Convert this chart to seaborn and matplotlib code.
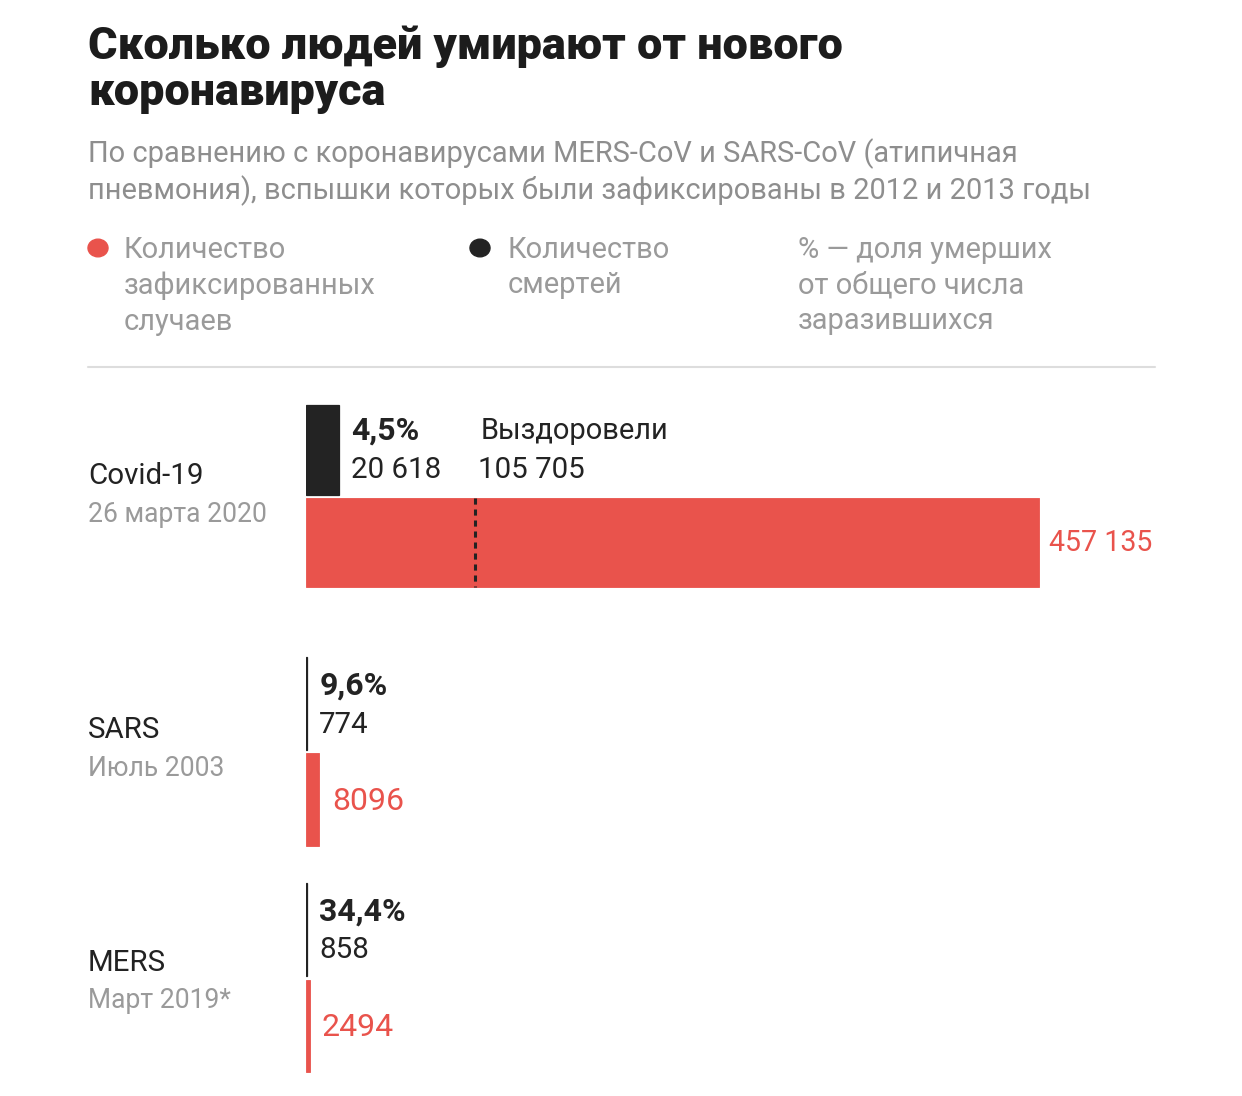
import matplotlib
matplotlib.use("Agg")
import matplotlib.pyplot as plt
import seaborn as sns

# ---- data ----
diseases = ["Covid-19", "SARS", "MERS"]
dates = ["26 марта 2020", "Июль 2003", "Март 2019*"]
cases = [457135, 8096, 2494]
deaths = [20618, 774, 858]
recovered_covid = 105705
pct_labels = ["4,5%", "9,6%", "34,4%"]
cases_labels = ["457 135", "8096", "2494"]
deaths_labels = ["20 618", "774", "858"]
recovered_label = "105 705"

title = "Сколько людей умирают от нового\nкоронавируса"
subtitle = ("По сравнению с коронавирусами MERS-CoV и SARS-CoV (атипичная\n"
            "пневмония), вспышки которых были зафиксированы в 2012 и 2013 годы")
legend_cases = "Количество\nзафиксированных\nслучаев"
legend_deaths = "Количество\nсмертей"
legend_pct = "% — доля умерших\nот общего числа\nзаразившихся"
recovered_title = "Выздоровели"

# ---- style ----
RED = "#E9534C"
BLACK = "#232323"
GREY = "#9a9a9a"
sns.set_theme(style="white")
plt.rcParams["font.family"] = ["Roboto", "DejaVu Sans"]

W, H = 1242, 1096
fig = plt.figure(figsize=(W / 100, H / 100), dpi=100)
fig.patch.set_facecolor("white")


def fp(x, y):
    return x / W, 1 - y / H


def pt(px):
    return px * 0.72


# ---- header ----
fig.text(*fp(88, 26), title, fontsize=pt(45), fontweight="black", color="#1c1c1c",
         va="top", ha="left", linespacing=1.11)
fig.text(*fp(88, 138), subtitle, fontsize=pt(29), color="#8e8e8e",
         va="top", ha="left", linespacing=1.28)

# legend
for x, txt in [(124, legend_cases), (508, legend_deaths), (798, legend_pct)]:
    fig.text(*fp(x, 236), txt, fontsize=pt(29), color=GREY, va="top",
             ha="left", linespacing=1.34)
fig.add_artist(plt.Circle(fp(98, 248), 10 / W, transform=fig.transFigure,
                          color=RED))
fig.add_artist(plt.Circle(fp(480, 248), 10 / W, transform=fig.transFigure,
                          color=BLACK))
fig.add_artist(plt.Line2D([88 / W, 1155 / W], [1 - 367 / H, 1 - 367 / H],
                          transform=fig.transFigure, color="#dddddd", lw=1.5))

# row labels
name_y = [476, 730, 963]
date_y = [515, 768, 1000]
for n, d, yn, yd in zip(diseases, dates, name_y, date_y):
    fig.text(*fp(88, yn), n, fontsize=pt(29.5), color="#222222", va="center", ha="left")
    fig.text(*fp(88, yd), d, fontsize=pt(26.5), color=GREY, va="center", ha="left")

# ---- bars ----
x0 = 306
ax = fig.add_axes([x0 / W, 0, (W - x0) / W, 1])
death_span = [(405, 495), (657, 750), (883, 976)]
case_span = [(498, 587), (753, 846), (980, 1072)]

for i in range(len(diseases)):
    t, b = death_span[i]
    sns.barplot(x=[deaths[i]], y=[(t + b) / 2], orient="h", native_scale=True,
                width=b - t, color=BLACK, saturation=1, ax=ax,
                edgecolor=BLACK, linewidth=0.9)
    t, b = case_span[i]
    sns.barplot(x=[cases[i]], y=[(t + b) / 2], orient="h", native_scale=True,
                width=b - t, color=RED, saturation=1, ax=ax,
                edgecolor=RED, linewidth=0.6)

ax.set_xlim(0, max(cases) * (W - x0) / 733)
ax.set_ylim(H, 0)
ax.set_axis_off()

# dotted recovered line
t, b = case_span[0]
ax.vlines(recovered_covid, t, b, colors=BLACK, lw=2.2, linestyles=(0, (2, 1.6)))

# annotations
pct_y = [431, 686, 912]
val_y = [470, 725, 950]
case_y = [543, 801, 1027]
case_size = [28.5, 32, 32]
case_off = [10, 13, 12]
for i in range(len(diseases)):
    ax.annotate(pct_labels[i], (deaths[i], pct_y[i]), xytext=(12, 0),
                textcoords="offset pixels", fontsize=pt(32), fontweight="bold",
                color=BLACK, va="center", ha="left")
    ax.annotate(deaths_labels[i], (deaths[i], val_y[i]), xytext=(12, 0),
                textcoords="offset pixels", fontsize=pt(29.5), color=BLACK,
                va="center", ha="left")
    ax.annotate(cases_labels[i], (cases[i], case_y[i]), xytext=(case_off[i], 0),
                textcoords="offset pixels", fontsize=pt(case_size[i]), color=RED,
                va="center", ha="left")

ax.annotate(recovered_title, (recovered_covid, 431), xytext=(5, 0),
            textcoords="offset pixels", fontsize=pt(29), color=BLACK,
            va="center", ha="left")
ax.annotate(recovered_label, (recovered_covid, 470), xytext=(3, 0),
            textcoords="offset pixels", fontsize=pt(29.5), color=BLACK,
            va="center", ha="left")

fig.savefig("out.png", dpi=100, facecolor="white")
